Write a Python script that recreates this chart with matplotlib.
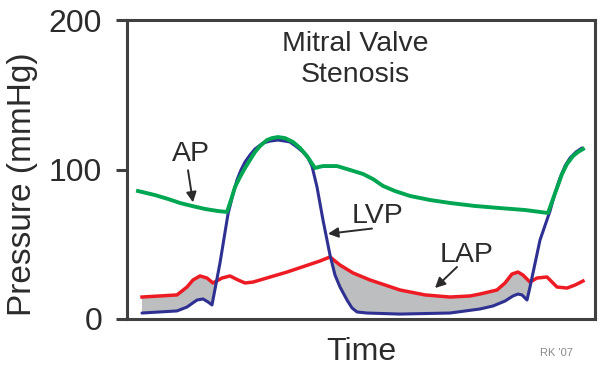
import numpy as np
import matplotlib
matplotlib.use("Agg")
import matplotlib.pyplot as plt

plt.rcParams['font.family'] = ['Liberation Sans', 'DejaVu Sans']

# time (arbitrary units) and pressure (mmHg)
lvp_t = [15, 50, 60, 70, 76, 81, 85, 93, 101, 105, 110, 114, 118, 123, 128, 136,
         143, 151, 158, 163, 170, 176, 181, 185, 190, 196, 203, 208, 213, 220,
         225, 230, 240, 273, 323, 353, 366, 378, 386, 391, 395, 400, 403, 413,
         423, 428, 433, 438, 443, 449, 455]
lvp_p = [4.0, 5.4, 8.0, 12.7, 13.4, 11.4, 9.4, 37.5, 70.2, 80.9, 93, 99.7, 105,
         109.7, 113.7, 117.7, 119, 119.7, 119, 118.4, 115, 111.7, 107.7, 102.3,
         88.3, 66.2, 42.8, 29.4, 21.4, 12.7, 7.4, 4.7, 4.0, 3.3, 4.0, 6.7, 8.7,
         12.0, 15.4, 16.7, 16.1, 12.7, 21.4, 52.8, 72.2, 84.3, 94.3, 102.3, 107.7,
         111.7, 114.4]

ap_t = [11, 28, 41, 53, 65, 78, 91, 100, 104, 108, 113, 118, 123, 128, 133, 140,
        145, 151, 158, 166, 173, 180, 184, 188, 192, 196, 210, 223, 236, 246, 256,
        268, 283, 303, 323, 348, 373, 398, 421, 426, 430, 435, 440, 446, 451, 456]
ap_p = [85.6, 82.9, 80.3, 77.6, 75.6, 73.6, 72.2, 71.6, 79.6, 88.3, 95, 101, 106.4,
        111.7, 115.7, 119.7, 121, 121.7, 121, 118.4, 114.4, 109, 105, 101, 101.7,
        102.3, 102.3, 99.7, 97, 93.6, 89, 85.6, 82.3, 79.6, 77.6, 75.6, 74.2, 72.9,
        70.9, 80.3, 87.6, 97, 103.7, 109, 111.7, 113.7]

lap_t = [15, 50, 60, 66, 73, 80, 86, 95, 103, 111, 118, 126, 160, 193, 203, 213,
         226, 243, 273, 298, 323, 343, 353, 370, 378, 385, 391, 396, 403, 410, 420,
         430, 440, 448, 456]
lap_p = [14.7, 16.1, 21.4, 26.1, 28.8, 27.4, 24.1, 27.4, 28.8, 26.1, 24.1, 24.7,
         31.4, 38.8, 41.5, 36.1, 30.8, 26.1, 19.4, 16.1, 14.7, 15.4, 16.7, 19.4,
         24.1, 30.1, 31.4, 29.4, 24.7, 27.4, 28.1, 21.4, 20.7, 22.7, 25.4]

yticks = [0, 100, 200]

blue = '#2E3192'
green = '#00A651'
red = '#ED1C24'
dark = '#2B2B2B'

fig = plt.figure(figsize=(6.02, 3.79), dpi=100)
ax = fig.add_axes([127 / 602, 60 / 379, 468 / 602, 299 / 379])

# grey area where atrial pressure exceeds ventricular pressure
grid = np.linspace(15, 455, 3000)
lvp_g = np.interp(grid, lvp_t, lvp_p)
lap_g = np.interp(grid, lap_t, lap_p)
ax.fill_between(grid, lvp_g, lap_g, where=lap_g > lvp_g, interpolate=True,
                color='#BCBEC0', lw=0, zorder=1)

ax.plot(lvp_t, lvp_p, color=blue, lw=2.2, solid_joinstyle='round',
        solid_capstyle='round', zorder=3)
ax.plot(ap_t, ap_p, color=green, lw=2.8, solid_joinstyle='round', zorder=4)
ax.plot(lap_t, lap_p, color=red, lw=2.5, solid_joinstyle='round', zorder=2)

ax.set_xlim(0, 468)
ax.set_ylim(0, 200)
ax.set_xticks([])
ax.set_yticks(yticks)
ax.tick_params(axis='y', length=8, width=2.2, color='#404040', pad=10,
               labelsize=23, labelcolor=dark)
for s in ax.spines.values():
    s.set_color('#404040')
    s.set_linewidth(2.2)

ax.set_ylabel('Pressure (mmHg)', fontsize=24, color=dark)
ax.yaxis.set_label_coords(-0.19, 0.45)
ax.set_xlabel('Time', fontsize=23, color=dark)
ax.xaxis.set_label_coords(0.5, -0.06)
ax.xaxis.label.set_va('top')

ax.text(228, 179.3, 'Mitral Valve', ha='center', va='baseline', fontsize=20.5,
        color=dark)
ax.text(228, 158.5, 'Stenosis', ha='center', va='baseline', fontsize=20.5,
        color=dark)
ax.text(64, 106, 'AP', ha='center', va='baseline', fontsize=20.5, color=dark)
ax.text(225, 64, 'LVP', ha='left', va='baseline', fontsize=20.5, color=dark)
ax.text(313, 38, 'LAP', ha='left', va='baseline', fontsize=20.5, color=dark)

arrow = dict(arrowstyle='-|>,head_length=0.6,head_width=0.3', color=dark, lw=1.4,
             shrinkA=0, shrinkB=0)
ax.annotate('', xy=(66, 78), xytext=(61, 99.5), arrowprops=arrow)
ax.annotate('', xy=(201, 57), xytext=(245, 60.5), arrowprops=arrow)
ax.annotate('', xy=(308, 20.7), xytext=(330, 34.8), arrowprops=arrow)

fig.text(556 / 602, 1 - 353 / 379, "RK '07", fontsize=8, color='#8A8A8A',
         ha='center', va='center')

fig.savefig('out.png', dpi=100)
